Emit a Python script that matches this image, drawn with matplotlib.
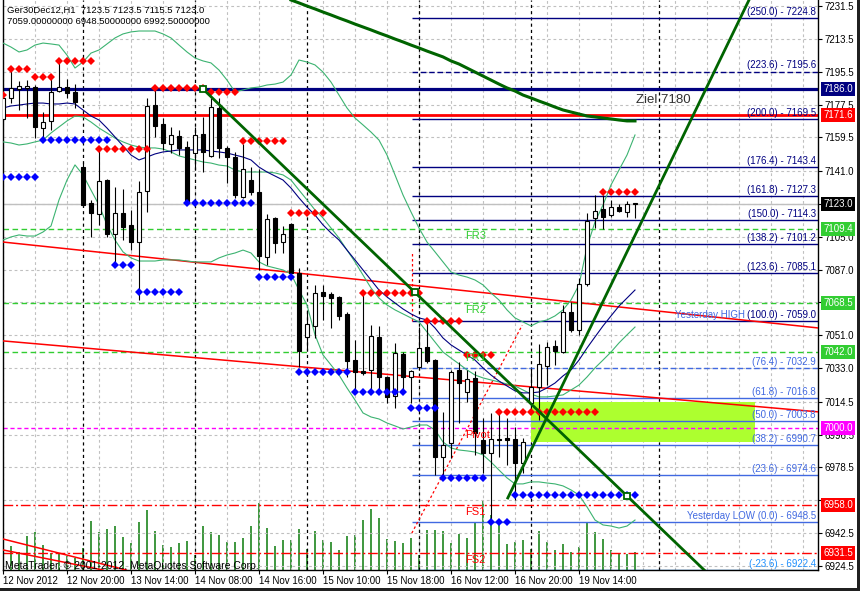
import numpy as np
import matplotlib
matplotlib.use("Agg")
import matplotlib.pyplot as plt
from matplotlib.patches import Rectangle

plt.rcParams['font.family'] = ['Liberation Sans', 'DejaVu Sans']

# Ger30Dec12, H1 - bars from 12 Nov 12:00 to 19 Nov 21:00
opens = [7169.5, 7181.0, 7186.0, 7186.5, 7187.0, 7164.5, 7168.5, 7185.0, 7187.0, 7184.5,
         7143.0, 7123.5, 7117.5, 7136.0, 7106.5, 7118.0, 7111.5, 7102.0, 7130.0, 7177.0,
         7167.0, 7156.0, 7160.0, 7154.0, 7151.0, 7161.5, 7149.5, 7175.5, 7153.5, 7148.5,
         7127.0, 7136.0, 7129.5, 7094.0, 7115.5, 7102.0, 7112.0, 7085.0, 7050.0, 7056.0,
         7074.5, 7073.5, 7072.0, 7062.5, 7037.5, 7031.5, 7032.0, 7050.0, 7028.0, 7017.5,
         7040.5, 7028.0, 7033.5, 7044.5, 7037.5, 6984.5, 6992.0, 7032.0, 7020.0, 7027.5,
         6993.5, 6986.5, 6994.0, 6994.5, 6994.0, 6981.0, 7014.0, 7022.5, 7034.0, 7045.0,
         7042.0, 7064.0, 7054.0, 7079.0, 7115.5, 7120.0, 7117.0, 7121.5, 7118.5, 7123.5]
highs = [7182.5, 7196.5, 7190.5, 7191.0, 7188.0, 7173.5, 7192.5, 7201.0, 7191.5, 7189.0,
         7145.5, 7125.0, 7152.5, 7136.5, 7132.5, 7131.0, 7119.5, 7135.5, 7181.0, 7185.5,
         7170.0, 7165.0, 7163.5, 7157.5, 7165.0, 7170.5, 7181.0, 7181.0, 7155.0, 7151.5,
         7156.0, 7143.0, 7142.0, 7117.5, 7116.0, 7111.0, 7112.5, 7088.0, 7065.0, 7078.5,
         7078.5, 7074.5, 7072.5, 7064.0, 7048.5, 7074.0, 7056.5, 7056.0, 7028.5, 7047.0,
         7042.0, 7032.0, 7055.5, 7059.5, 7038.0, 7009.0, 7032.0, 7036.5, 7032.0, 7031.5,
         7005.5, 7008.5, 7010.0, 7005.5, 7000.5, 6994.5, 7033.0, 7046.0, 7047.5, 7048.5,
         7067.5, 7069.0, 7082.5, 7118.0, 7128.0, 7128.0, 7125.0, 7123.0, 7124.5, 7123.5]
lows = [7168.5, 7178.5, 7174.5, 7170.0, 7159.0, 7158.0, 7163.5, 7184.5, 7181.0, 7175.5,
        7122.0, 7105.0, 7111.5, 7105.0, 7089.5, 7103.0, 7097.5, 7070.5, 7118.5, 7159.5,
        7152.5, 7151.0, 7150.0, 7123.5, 7141.5, 7140.5, 7148.5, 7148.0, 7134.5, 7126.5,
        7126.5, 7128.0, 7087.0, 7089.5, 7096.0, 7096.0, 7084.5, 7033.5, 7043.0, 7049.5,
        7059.5, 7055.0, 7059.5, 7028.0, 7021.0, 7029.0, 7021.0, 7020.0, 7014.0, 7011.0,
        7021.0, 7014.0, 7032.0, 7036.0, 6974.5, 6973.5, 6983.5, 7003.0, 7014.5, 6985.5,
        6975.5, 6948.5, 6984.5, 6980.0, 6960.5, 6975.5, 7010.0, 7004.5, 7023.5, 7034.5,
        7041.5, 7053.0, 7051.0, 7078.0, 7110.0, 7109.5, 7116.0, 7118.5, 7116.0, 7115.5]
closes = [7181.0, 7186.5, 7187.5, 7187.5, 7165.0, 7168.0, 7184.5, 7187.0, 7184.0, 7179.0,
          7122.5, 7118.0, 7135.5, 7106.5, 7118.0, 7110.5, 7102.0, 7129.5, 7176.5, 7165.5,
          7156.5, 7161.0, 7153.5, 7124.0, 7161.0, 7151.5, 7176.0, 7153.5, 7148.5, 7128.0,
          7142.0, 7129.5, 7094.5, 7114.5, 7101.5, 7106.5, 7085.0, 7042.5, 7057.0, 7074.0,
          7072.5, 7071.5, 7061.5, 7037.0, 7031.0, 7030.5, 7050.5, 7028.0, 7017.0, 7041.5,
          7028.0, 7031.5, 7044.0, 7037.0, 6984.5, 6991.0, 7031.0, 7025.0, 7027.0, 6997.5,
          6986.5, 6994.0, 6993.5, 6993.5, 6981.0, 6992.5, 7022.5, 7035.5, 7044.5, 7042.5,
          7064.0, 7054.0, 7079.0, 7113.5, 7119.0, 7116.0, 7121.5, 7119.0, 7123.0, 7123.0]
volumes = [1200, 1200, 900, 1700, 1900, 1250, 850, 850, 700, 600,
           1100, 2450, 1900, 2050, 2200, 1650, 1350, 2400, 3000, 1950,
           1250, 1150, 1350, 1450, 750, 2200, 1900, 1750, 1400, 1400,
           1600, 2200, 3350, 2100, 1200, 1500, 1500, 2050, 1050, 1950,
           1500, 1400, 1000, 1700, 1750, 2500, 3050, 2600, 1550, 1450,
           1350, 1600, 750, 2000, 2000, 1950, 1350, 1800, 1600, 2400,
           3500, 2750, 2500, 1300, 1400, 1500, 1050, 1950, 1400, 1000,
           1300, 900, 1150, 2400, 1900, 1550, 1000, 800, 800, 900]

# indicators
ma_fast = [7175.6, 7176.7, 7177.2, 7177.8, 7178.3, 7178.3, 7177.8, 7177.8, 7178.3, 7177.8,
           7174.5, 7171.2, 7169.0, 7164.6, 7159.7, 7154.8, 7149.8, 7147.1, 7148.7, 7150.4,
           7151.5, 7152.0, 7152.6, 7152.6, 7152.6, 7152.6, 7152.0, 7151.5, 7150.9, 7149.8,
           7148.7, 7147.1, 7143.2, 7140.5, 7138.3, 7136.1, 7131.7, 7126.3, 7121.3, 7116.9,
           7111.5, 7107.1, 7103.2, 7097.7, 7092.3, 7086.8, 7081.3, 7075.8, 7072.0, 7068.7,
           7065.4, 7062.7, 7060.5, 7059.4, 7055.0, 7049.5, 7045.7, 7042.9, 7040.2, 7037.4,
           7033.1, 7029.2, 7025.9, 7023.2, 7020.5, 7019.4, 7019.4, 7019.9, 7022.1, 7024.8,
           7028.7, 7032.0, 7037.4, 7044.0, 7050.1, 7056.1, 7061.6, 7067.0, 7071.4, 7075.8]
bb_upper = [7211.2, 7209.0, 7206.3, 7207.4, 7210.1, 7211.2, 7210.7, 7210.1, 7204.6, 7197.5,
            7200.8, 7205.7, 7207.4, 7210.7, 7214.0, 7216.2, 7217.3, 7217.8, 7217.8, 7217.8,
            7216.2, 7214.0, 7210.1, 7206.3, 7203.0, 7201.4, 7200.3, 7196.4, 7190.9, 7184.4,
            7185.5, 7186.6, 7187.1, 7188.2, 7188.7, 7189.8, 7193.7, 7201.9, 7200.8, 7199.2,
            7195.3, 7189.8, 7182.7, 7175.6, 7170.1, 7166.3, 7162.4, 7158.0, 7149.8, 7138.9,
            7127.9, 7118.6, 7109.8, 7102.1, 7096.7, 7091.2, 7085.7, 7084.0, 7082.9, 7081.3,
            7078.6, 7074.2, 7070.3, 7064.9, 7060.5, 7058.3, 7056.1, 7058.3, 7059.4, 7061.6,
            7064.9, 7070.3, 7078.6, 7099.4, 7113.1, 7122.4, 7133.4, 7141.6, 7149.8, 7160.8]
bb_mid = [7157.0, 7156.4, 7155.3, 7155.9, 7157.0, 7158.0, 7161.9, 7165.2, 7168.5, 7171.2,
          7170.7, 7167.9, 7164.6, 7161.9, 7159.1, 7157.0, 7155.3, 7154.2, 7153.7, 7153.7,
          7153.1, 7151.5, 7149.3, 7148.2, 7147.1, 7146.0, 7145.4, 7144.3, 7143.8, 7141.6,
          7140.5, 7140.5, 7140.5, 7140.5, 7140.0, 7138.9, 7136.1, 7130.6, 7125.2, 7119.7,
          7115.3, 7109.8, 7104.3, 7097.7, 7091.2, 7084.0, 7076.9, 7071.4, 7067.6, 7064.9,
          7062.7, 7060.5, 7058.3, 7052.8, 7047.3, 7041.8, 7038.5, 7035.3, 7032.0, 7029.2,
          7027.6, 7026.5, 7025.4, 7024.3, 7023.2, 7021.0, 7018.8, 7017.2, 7017.2, 7017.7,
          7018.3, 7021.0, 7023.7, 7028.1, 7033.1, 7037.4, 7041.8, 7046.8, 7051.2, 7055.5]
bb_lower = [7103.2, 7104.9, 7106.0, 7105.4, 7105.4, 7107.6, 7110.9, 7125.2, 7136.1, 7144.4,
            7138.9, 7130.6, 7122.4, 7111.5, 7103.2, 7096.7, 7093.4, 7091.7, 7091.7, 7091.7,
            7092.3, 7092.3, 7092.3, 7091.7, 7091.2, 7091.2, 7091.2, 7093.4, 7095.0, 7096.1,
            7097.7, 7096.1, 7091.2, 7089.0, 7087.9, 7086.8, 7084.6, 7075.8, 7067.6, 7051.2,
            7040.2, 7034.7, 7029.2, 7022.1, 7015.5, 7008.4, 7006.2, 7005.1, 7002.9, 7001.3,
            6999.6, 7000.7, 7001.8, 7001.8, 6999.1, 6992.5, 6989.2, 6988.1, 6987.6, 6987.0,
            6985.4, 6981.5, 6977.1, 6972.8, 6969.5, 6969.5, 6970.6, 6970.6, 6970.0, 6969.5,
            6968.4, 6966.2, 6963.4, 6956.9, 6949.7, 6947.0, 6946.4, 6945.3, 6946.4, 6949.7]
ma_slow_start = 36
ma_slow = [7234.8, 7233.2, 7231.5, 7229.9, 7228.2, 7226.6, 7224.9, 7223.3, 7221.6, 7220.0,
           7218.4, 7216.7, 7215.1, 7213.4, 7211.8, 7210.1, 7208.5, 7206.8, 7205.2, 7203.6,
           7201.4, 7199.7, 7197.5, 7195.3, 7193.1, 7190.9, 7188.7, 7186.6, 7184.9, 7182.7,
           7181.1, 7179.4, 7177.8, 7176.1, 7174.5, 7173.4, 7172.3, 7171.2, 7170.7, 7170.1,
           7169.6, 7169.0, 7168.5, 7168.5]

# fractal rows: (first bar, last bar, price)
fractal_up = [(0, 0, 7182.7), (1, 3, 7197.0), (4, 6, 7192.6), (7, 11, 7201.4), (12, 18, 7153.1),
              (19, 25, 7186.6), (26, 29, 7184.4), (30, 35, 7157.5), (36, 40, 7118.0),
              (45, 52, 7074.2), (53, 57, 7058.8), (58, 61, 7040.2), (62, 74, 7008.9),
              (75, 79, 7129.5)]
fractal_dn = [(0, 4, 7137.8), (5, 13, 7158.0), (14, 16, 7089.5), (17, 22, 7074.7),
              (23, 31, 7123.5), (32, 36, 7083.0), (37, 43, 7030.9), (44, 50, 7019.9),
              (51, 54, 7011.1), (55, 60, 6972.8), (61, 63, 6948.6), (64, 79, 6963.4)]

# fibonacci (yesterday high 7059.0 / low 6948.5)
fib_pct = ["250.0", "223.6", "200.0", "176.4", "161.8", "150.0", "138.2", "123.6",
           "100.0", "76.4", "61.8", "50.0", "38.2", "23.6", "0.0", "-23.6"]
fib_price = [7224.8, 7195.6, 7169.5, 7143.4, 7127.3, 7114.3, 7101.2, 7085.1,
             7059.0, 7032.9, 7016.8, 7003.8, 6990.7, 6974.6, 6948.5, 6922.4]
fib_start = 51.1

# pivot levels
piv_names = ["FR3", "FR2", "FR1", "Pivot", "FS1", "FS2"]
piv_prices = [7109.4, 7068.5, 7042.0, 7000.0, 6958.0, 6931.5]

# trend lines (bar, price anchors)
tl_down = ([25, 78], [7186.0, 6962.9])
tl_up = ([63.1, 93.25], [6961.8, 7234.8])
red_lines = [([0, 101.9], [7102.1, 7055.0]), ([0, 101.9], [7047.9, 7009.0]),
             ([0, 15.4], [6939.3, 6922.3]), ([0, 10.0], [6933.3, 6924.5])]
fib_trend = ([51.1, 64.9], [6942.5, 7056.5])
squares_bars = [25, 51.5, 78]
zone = (66, 94, 6992.5, 7014.4)

price_ticks = [7231.5, 7213.5, 7195.5, 7177.5, 7159.5, 7141.0, 7123.0, 7105.0, 7087.0, 7069.0,
               7051.0, 7033.0, 7014.5, 6996.5, 6978.5, 6960.5, 6942.5, 6924.5]
time_ticks = [0, 8, 16, 24, 32, 40, 48, 56, 64, 72]
time_labels = ["12 Nov 2012", "12 Nov 20:00", "13 Nov 14:00", "14 Nov 08:00", "14 Nov 16:00",
               "15 Nov 10:00", "15 Nov 18:00", "16 Nov 12:00", "16 Nov 20:00", "19 Nov 14:00"]
day_breaks = [10, 24, 38, 52, 66, 82]
tags = [(7186.0, "#000080"), (7171.6, "#FF0000"), (7123.0, "#000000"), (7109.4, "#32CD32"),
        (7068.5, "#32CD32"), (7042.0, "#32CD32"), (7000.0, "#FF00FF"), (6958.0, "#FF0000"),
        (6931.5, "#FF0000")]

W, H = 860, 591
fig = plt.figure(figsize=(W / 100, H / 100), dpi=100)
fig.patch.set_facecolor("white")
ax = fig.add_axes([3 / W, (H - 570) / H, 815 / W, 570 / H])
ax2 = ax.twinx()
ax.set_zorder(ax2.get_zorder() + 1)
ax.patch.set_visible(False)

xmax = 101.875
ax.set_xlim(0, xmax)
ax.set_ylim(6922.3, 7234.8)
ax2.set_ylim(0, 28500)
ax2.axis("off")

x = np.arange(len(opens))
o, h, l, c = map(np.array, (opens, highs, lows, closes))

# volumes
ax2.vlines(x, 0, volumes, color="#0A7A0A", lw=1.1)

# grid
gls = (0, (2.5, 2.5))
for p in price_ticks:
    ax.axhline(p, color="#C0C0C0", lw=0.8, ls=gls, zorder=0.5)
for b in range(0, 102, 4):
    ax.axvline(b, color="#C0C0C0", lw=0.8, ls=gls, zorder=0.5)
for b in day_breaks:
    ax.axvline(b, color="black", lw=0.9, ls=gls, zorder=1)

# zone
ax.add_patch(Rectangle((zone[0], zone[2]), zone[1] - zone[0], zone[3] - zone[2],
                       facecolor="#ADFF2F", edgecolor="none", zorder=1.2))

# levels
ax.axhline(7123.0, color="#C0C0C0", lw=1, zorder=1.5)
ax.axhline(7186.0, color="#000080", lw=2.3, zorder=2)
ax.axhline(7171.6, color="#FF0000", lw=2.0, zorder=2)
for name, p in zip(piv_names, piv_prices):
    if name.startswith("FR"):
        col, ls = "#32CD32", (0, (4, 2.5))
    elif name == "Pivot":
        col, ls = "#FF00FF", (0, (3, 2))
    else:
        col, ls = "#FF0000", (0, (7, 2, 1.5, 2))
    ax.axhline(p, color=col, lw=1, ls=ls, zorder=2)
    ax.text(57.8, p - 1.0, name, color=col if name.startswith("FR") else "#FF0000",
            fontsize=8, ha="left", va="top", zorder=8)

ytr = ax.get_yaxis_transform()
for pct, p in zip(fib_pct, fib_price):
    v = float(pct)
    if v >= 100:
        col = "#000080"
    elif v >= 0:
        col = "#4169E1"
    else:
        col = "#1E90FF"
    ls = (0, (4, 2)) if pct in ("223.6", "76.4") else "-"
    ax.hlines(p, fib_start, xmax, color=col, lw=1, ls=ls, zorder=2)
    label = "(%s) - %.1f" % (pct, p)
    if pct == "0.0":
        label = "Yesterday LOW " + label
    ax.text(1 - 2 / 815, p + 0.6, label, transform=ytr, color=col, fontsize=7,
            ha="right", va="bottom", zorder=8)
ax.text(84.0, 7059.0 + 0.6, "Yesterday HIGH", color="#4169E1", fontsize=7,
        ha="left", va="bottom", zorder=8)

# fib connector (dotted red)
ax.plot(fib_trend[0], fib_trend[1], color="#FF0000", lw=0.9, ls=(0, (2, 2)), zorder=2.5)
ax.plot([fib_start, fib_start], [7059.0, 7097.0], color="#FF0000", lw=0.9, ls=(0, (2, 2)), zorder=2.5)

# red trend lines
for bx, py in red_lines:
    ax.axline((bx[0], py[0]), (bx[1], py[1]), color="#FF0000", lw=1.1, zorder=2.6)

# indicators
ax.plot(x, bb_upper, color="#3CB371", lw=0.8, zorder=3)
ax.plot(x, bb_mid, color="#3CB371", lw=0.8, zorder=3)
ax.plot(x, bb_lower, color="#3CB371", lw=0.8, zorder=3)
ax.plot(x, ma_fast, color="#000080", lw=0.8, zorder=3)
ax.plot(np.arange(ma_slow_start, ma_slow_start + len(ma_slow)), ma_slow,
        color="#006400", lw=2.2, zorder=3.2)

# candles
up = c >= o
ax.vlines(x, l, h, color="black", lw=0.8, zorder=4)
bottom = np.minimum(o, c)
height = np.maximum(np.abs(c - o), 0.35)
ax.bar(x[up], height[up], bottom=bottom[up], width=0.62, facecolor="white",
       edgecolor="black", lw=0.8, zorder=4.5)
ax.bar(x[~up], height[~up], bottom=bottom[~up], width=0.62, facecolor="black",
       edgecolor="black", lw=0.8, zorder=4.5)

# fractals
for b0, b1, p in fractal_up:
    xs = np.arange(b0, b1 + 1)
    ax.plot(xs, [p] * len(xs), ls="none", marker="D", ms=4, color="#FF0000", mew=0, zorder=5)
for b0, b1, p in fractal_dn:
    xs = np.arange(b0, b1 + 1)
    ax.plot(xs, [p] * len(xs), ls="none", marker="D", ms=4, color="#0000FF", mew=0, zorder=5)

# green trend lines
(b0, b1), (p0, p1) = tl_down
slope = (p1 - p0) / (b1 - b0)
ax.plot([b0, 92], [p0, p0 + slope * (92 - b0)], color="#006400", lw=2.0, zorder=6)
ax.plot(squares_bars, [p0 + slope * (b - b0) for b in squares_bars], ls="none", marker="s",
        ms=5, mfc="white", mec="#006400", mew=1.3, zorder=7)
(b0, b1), (p0, p1) = tl_up
slope = (p1 - p0) / (b1 - b0)
ax.plot([b0, 96], [p0, p0 + slope * (96 - b0)], color="#006400", lw=2.0, zorder=6)

ax.text(79.1, 7180.0, "Ziel 7180", fontsize=9.5, color="#303030", ha="left", va="center", zorder=8)

# axes styling
for s in ("left", "bottom", "right"):
    ax.spines[s].set_color("black")
    ax.spines[s].set_linewidth(1)
ax.spines["top"].set_visible(False)
ax.yaxis.tick_right()
ax.set_yticks(price_ticks)
# labels hidden under the coloured price tags are left empty
covered = [7123.0, 7069.0, 6960.5]
ax.set_yticklabels(["" if p in covered else "%.1f" % p for p in price_ticks])
ax.tick_params(axis="y", which="both", right=True, left=False, length=3, pad=2,
               labelsize=7, direction="out")
ax.set_xticks(time_ticks)
ax.set_xticklabels(time_labels)
ax.tick_params(axis="x", length=3, pad=1.5, labelsize=7, direction="out")
for lab in ax.get_xticklabels():
    lab.set_ha("left")

for p, col in tags:
    ax.text(1 + 5 / 815, p, "%.1f" % p, transform=ytr, ha="left", va="center", color="white",
            fontsize=7, clip_on=False, zorder=10,
            bbox=dict(boxstyle="square,pad=0.22", fc=col, ec="none"))

fig.text(7 / W, 1 - 10 / H, "Ger30Dec12,H1  7123.5 7123.5 7115.5 7123.0",
         fontsize=6.8, ha="left", va="center")
fig.text(7 / W, 1 - 21 / H, "7059.00000000 6948.50000000 6992.50000000",
         fontsize=6.8, ha="left", va="center")
fig.text(5 / W, 1 - 566 / H, "MetaTrader, \u00a9 2001-2012, MetaQuotes Software Corp.",
         fontsize=7.5, ha="left", va="center", zorder=10)

# window frame
fig.patches.append(Rectangle((857 / W, 0), 3 / W, 1, transform=fig.transFigure,
                             facecolor="#202020", edgecolor="none"))
fig.patches.append(Rectangle((0, 0), 1, 3 / H, transform=fig.transFigure,
                             facecolor="#202020", edgecolor="none"))

fig.savefig("out.png", dpi=100)
